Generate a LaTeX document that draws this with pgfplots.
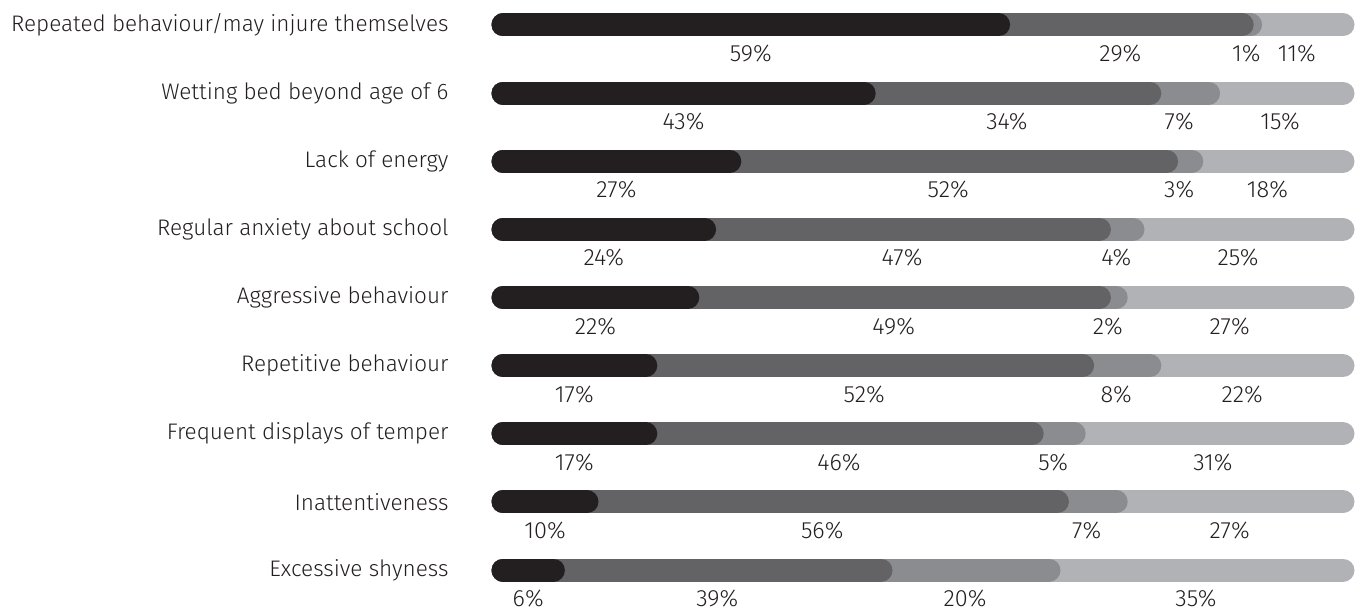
\documentclass[border=0pt]{standalone}
\usepackage{pgfplots}
\pgfplotsset{compat=1.18}
\usepackage{fontspec}
\setmainfont{Fira Sans}[UprightFont=* Light]
\definecolor{cA}{HTML}{231F20}
\definecolor{cB}{HTML}{636365}
\definecolor{cC}{HTML}{8B8C8F}
\definecolor{cD}{HTML}{B1B2B5}
\definecolor{txt}{HTML}{231F20}
\begin{document}
\begin{tikzpicture}
\begin{axis}[
  scale only axis, width=1361pt, height=613pt,
  xmin=-59.881, xmax=102.143, ymin=-0.6312, ymax=8.367,
  axis line style={draw=none}, ticks=none, clip=false,
  every axis plot/.append style={line cap=round, line width=23pt},
]
% light (total)
\addplot[cD] coordinates {(0,8) (100,8)};
\addplot[cD] coordinates {(0,7) (100,7)};
\addplot[cD] coordinates {(0,6) (100,6)};
\addplot[cD] coordinates {(0,5) (100,5)};
\addplot[cD] coordinates {(0,4) (100,4)};
\addplot[cD] coordinates {(0,3) (100,3)};
\addplot[cD] coordinates {(0,2) (100,2)};
\addplot[cD] coordinates {(0,1) (100,1)};
\addplot[cD] coordinates {(0,0) (100,0)};
% mid gray: cumulative of first three
\addplot[cC] coordinates {(0,8) (89,8)};
\addplot[cC] coordinates {(0,7) (84,7)};
\addplot[cC] coordinates {(0,6) (82,6)};
\addplot[cC] coordinates {(0,5) (75,5)};
\addplot[cC] coordinates {(0,4) (73,4)};
\addplot[cC] coordinates {(0,3) (77,3)};
\addplot[cC] coordinates {(0,2) (68,2)};
\addplot[cC] coordinates {(0,1) (73,1)};
\addplot[cC] coordinates {(0,0) (65,0)};
% dark gray: cumulative of first two
\addplot[cB] coordinates {(0,8) (88,8)};
\addplot[cB] coordinates {(0,7) (77,7)};
\addplot[cB] coordinates {(0,6) (79,6)};
\addplot[cB] coordinates {(0,5) (71,5)};
\addplot[cB] coordinates {(0,4) (71,4)};
\addplot[cB] coordinates {(0,3) (69,3)};
\addplot[cB] coordinates {(0,2) (63,2)};
\addplot[cB] coordinates {(0,1) (66,1)};
\addplot[cB] coordinates {(0,0) (45,0)};
% dark: first
\addplot[cA] coordinates {(0,8) (59,8)};
\addplot[cA] coordinates {(0,7) (43,7)};
\addplot[cA] coordinates {(0,6) (27,6)};
\addplot[cA] coordinates {(0,5) (24,5)};
\addplot[cA] coordinates {(0,4) (22,4)};
\addplot[cA] coordinates {(0,3) (17,3)};
\addplot[cA] coordinates {(0,2) (17,2)};
\addplot[cA] coordinates {(0,1) (10,1)};
\addplot[cA] coordinates {(0,0) (6,0)};
% percentage labels
\addplot[draw=none, mark=none, nodes near coords, point meta=explicit symbolic,
  every node near coord/.append style={anchor=center, font=\fontsize{23.5}{27}\selectfont, text=txt}]
coordinates {
(29.5,7.58) [59\%] (73.5,7.58) [29\%] (88.5,7.58) [1\%] (94.5,7.58) [11\%]
(21.5,6.58) [43\%] (60,6.58) [34\%] (80.5,6.58) [7\%] (92.5,6.58) [15\%]
(13.5,5.58) [27\%] (53,5.58) [52\%] (80.5,5.58) [3\%] (91,5.58) [18\%]
(12,4.58) [24\%] (47.5,4.58) [47\%] (73,4.58) [4\%] (87.5,4.58) [25\%]
(11,3.58) [22\%] (46.5,3.58) [49\%] (72,3.58) [2\%] (86.5,3.58) [27\%]
(8.5,2.58) [17\%] (43,2.58) [52\%] (73,2.58) [8\%] (88,2.58) [22\%]
(8.5,1.58) [17\%] (40,1.58) [46\%] (65.5,1.58) [5\%] (84.5,1.58) [31\%]
(5,0.58) [10\%] (38,0.58) [56\%] (69.5,0.58) [7\%] (86.5,0.58) [27\%]
(3,-0.42) [6\%] (25.5,-0.42) [39\%] (55,-0.42) [20\%] (82.5,-0.42) [35\%]
};
% category labels
\addplot[draw=none, mark=none, nodes near coords, point meta=explicit symbolic,
  every node near coord/.append style={anchor=east, inner sep=0pt, font=\fontsize{22.5}{26}\selectfont, text=txt}]
coordinates {
(-5.12,8) [Repeated behaviour/may injure themselves]
(-5.12,7) [Wetting bed beyond age of 6]
(-5.12,6) [Lack of energy]
(-5.12,5) [Regular anxiety about school]
(-5.12,4) [Aggressive behaviour]
(-5.12,3) [Repetitive behaviour]
(-5.12,2) [Frequent displays of temper]
(-5.12,1) [Inattentiveness]
(-5.12,0) [Excessive shyness]
};
\path (axis cs:-59.881,-0.6312) rectangle (axis cs:102.143,8.367);
\end{axis}
\end{tikzpicture}
\end{document}
